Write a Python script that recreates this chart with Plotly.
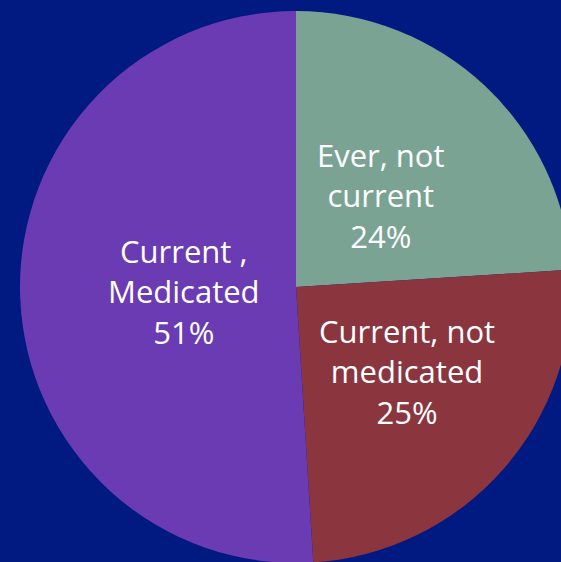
import plotly.graph_objects as go

# Smoking status breakdown
categories = ["Ever, not current", "Current, not medicated", "Current , Medicated"]
label_lines = [["Ever, not", "current"], ["Current, not", "medicated"], ["Current ,", "Medicated"]]
shares = [24, 25, 51]
colors = ["#7BA394", "#8B353F", "#6A3BB3"]

W, H = 575, 564
BG = "#001A82"

fig = go.Figure(
    go.Pie(
        labels=categories,
        values=shares,
        sort=False,
        direction="clockwise",
        rotation=0,
        marker=dict(colors=colors, line=dict(width=0)),
        textinfo="none",
        hoverinfo="label+percent",
        showlegend=False,
        domain=dict(x=[20 / W, 572 / W], y=[1 / H, 553 / H]),
    )
)

# slice labels (pixel centres of each text block)
label_pos = [(381, 196), (407, 371), (184, 291)]
for lines, val, (px, py) in zip(label_lines, shares, label_pos):
    fig.add_annotation(
        x=px / W, y=1 - py / H, xref="paper", yref="paper",
        text="<br>".join(lines + [f"{val}%"]),
        showarrow=False, xanchor="center", yanchor="middle",
        font=dict(family="Open Sans", size=31, color="white"),
    )

fig.update_layout(
    width=W, height=H,
    margin=dict(l=0, r=0, t=0, b=0),
    paper_bgcolor=BG, plot_bgcolor=BG,
)

fig.write_html(
    "out.html",
    post_script="document.body.style.margin='0';document.body.style.overflow='hidden';document.body.style.background='" + BG + "';",
)
